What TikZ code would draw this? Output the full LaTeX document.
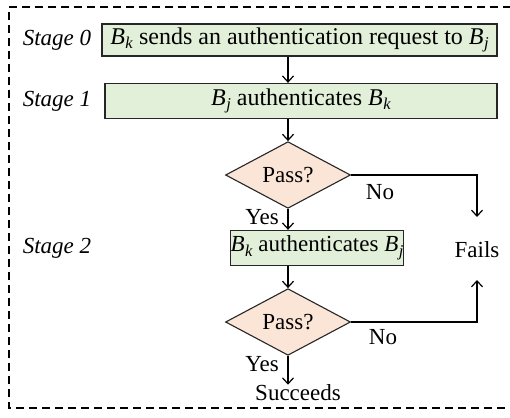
\documentclass[tikz,border=0pt]{standalone}
\usepackage{fontspec}
\setmainfont{Liberation Serif}
\usetikzlibrary{shapes.geometric,arrows.meta}
\definecolor{boxgreen}{HTML}{E2EFD9}
\definecolor{decpeach}{HTML}{FBE5D6}
\definecolor{edgegray}{HTML}{262626}
% italic B with an italic subscript, lowered a little more than usual
\newcommand\Bsub[2]{\textit{#1}\kern0.5pt\raisebox{-4.5pt}{\fontsize{16.5}{18}\selectfont\textit{#2}}}
\tikzset{
  stagebox/.style={draw=edgegray, line width=1.3pt, fill=boxgreen, inner sep=0pt},
  decision/.style={draw=edgegray, line width=1.1pt, fill=decpeach, diamond, inner sep=0pt,
    minimum width=125pt, minimum height=64pt},
  stagelabel/.style={font=\fontsize{23}{27}\selectfont\itshape},
  bigtext/.style={font=\fontsize{24}{28}\selectfont},
  plain/.style={inner sep=0pt},
  arr/.style={line width=1.2pt, -{Straight Barb[length=6pt,width=11pt,line width=1.2pt]}},
  frame/.style={line width=1.2pt, dash pattern=on 8pt off 5pt}
}
\begin{document}
\begin{tikzpicture}[x=1pt, y=-1pt, font=\fontsize{23}{27}\selectfont]
  \useasboundingbox (0,0) rectangle (510,417);
  % dashed frame around the whole flow
  \draw[frame] (511,7) -- (9,7) -- (9,408) -- (511,408);

  % stage 0
  \node[stagelabel] (s0) at (57,40) {Stage 0};
  \node[stagebox, bigtext, minimum width=395pt, minimum height=32pt] (b0) at (299.5,40)
    {\Bsub{B}{k} sends an authentication request to \Bsub{B}{j}};

  % stage 1
  \node[stagelabel] (s1) at (57,101) {Stage 1};
  \node[stagebox, bigtext, minimum width=392pt, minimum height=35pt] (b1) at (301,101)
    {\Bsub{B}{j} authenticates \Bsub{B}{k}};

  \node[decision] (d1) at (288,175) {Pass?};

  % stage 2
  \node[stagelabel] (s2) at (57,248) {Stage 2};
  \node[stagebox, minimum width=172pt, minimum height=35pt] (b2) at (317,248)
    {\Bsub{B}{k} authenticates \Bsub{B}{j}};

  \node[decision] (d2) at (288,322) {Pass?};

  \node[plain] (fails) at (477,250) {Fails};
  \node[plain] (ok) at (298,393) {Succeeds};

  \coordinate (ftop) at (477,217);
  \coordinate (fbot) at (477,280);

  % main flow
  \draw[arr] (b0.south -| d1.north) -- (b1.north -| d1.north);
  \draw[arr] (b1.south -| d1.north) -- (d1.north);
  \draw[arr] (d1.south) -- (b2.north -| d1.south);
  \draw[arr] (b2.south -| d2.north) -- (d2.north);
  \draw[arr] (d2.south) -- (ok.north -| d2.south);

  % failure branches
  \draw[arr] (d1.east) -| (ftop);
  \draw[arr] (d2.east) -| (fbot);

  % branch labels
  \node[plain] (no1) at (380,192) {No};
  \node[plain] (no2) at (383,337) {No};
  \node[plain, anchor=east] (yes1) at (279,217) {Yes};
  \node[plain, anchor=east] (yes2) at (279,364) {Yes};
\end{tikzpicture}
\end{document}
